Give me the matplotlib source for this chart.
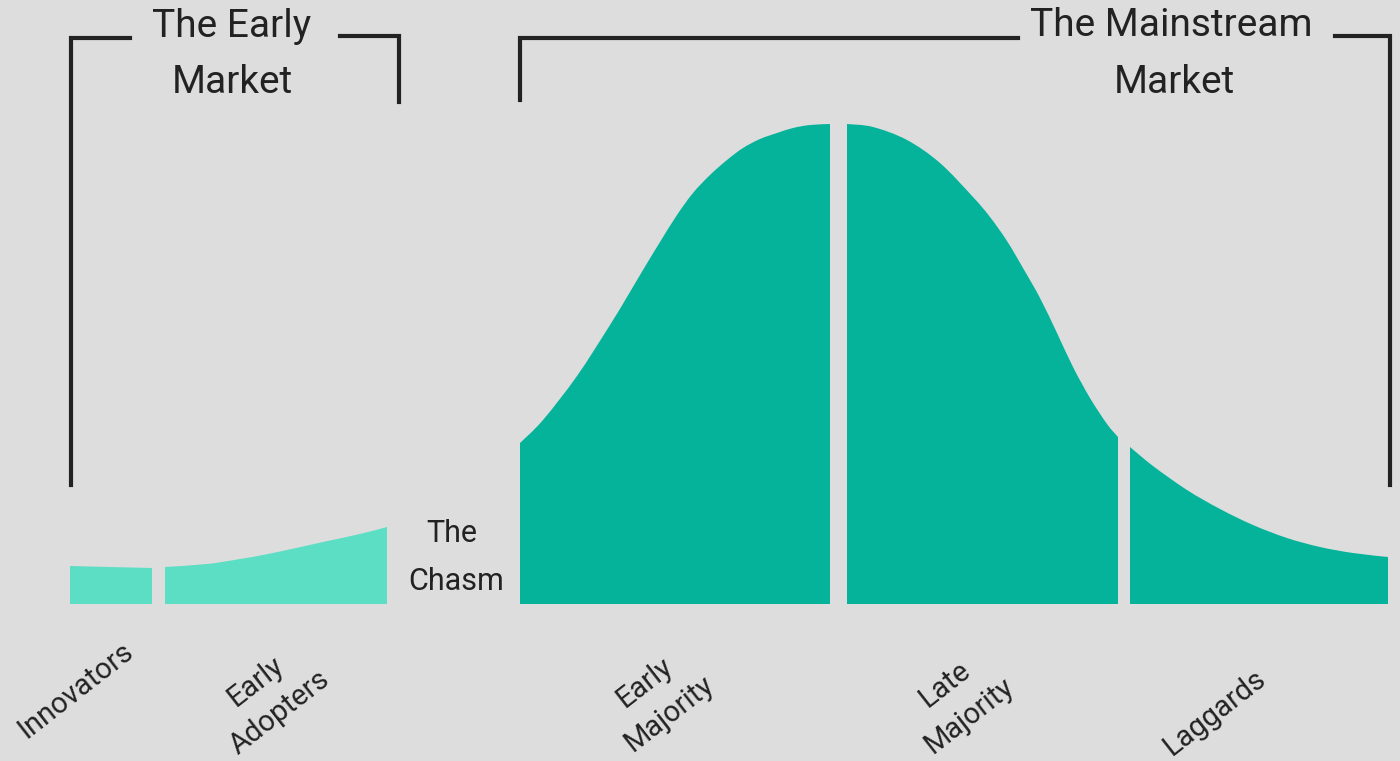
import numpy as np
import matplotlib
matplotlib.use("Agg")
from matplotlib import pyplot as plt
from matplotlib.path import Path
from matplotlib.patches import PathPatch

plt.rcParams['font.family'] = ['Roboto', 'DejaVu Sans']

# heights above the baseline (x in the same units)
innov_x = [70, 110, 152]
innov_h = [38, 37, 36]
adopt_x = [165, 207, 240, 273, 323, 360, 387]
adopt_h = [37, 40, 45, 51, 62, 70, 77]
emaj_x = [520, 543, 577, 610, 627, 643, 660, 677, 693, 710, 727, 743, 760, 777, 793, 810, 830]
emaj_h = [161, 184, 228, 279, 307, 334, 362, 389, 411, 429, 444, 456, 465, 471, 476, 479, 480]
lmaj_x = [847, 873, 907, 940, 973, 990, 1007, 1023, 1040, 1057, 1073, 1090, 1107, 1118]
lmaj_h = [480, 477, 464, 441, 407, 387, 363, 336, 306, 271, 237, 206, 180, 167]
lag_x = [1130, 1153, 1187, 1220, 1253, 1287, 1320, 1353, 1388]
lag_h = [157, 138, 114, 95, 79, 66, 57, 51, 47]

labels = ["Innovators", "Early\nAdopters", "Early\nMajority", "Late\nMajority", "Laggards"]
label_x = [76, 268, 657, 957, 1215]
label_y = [-86, -93, -94, -96, -109]

BG = '#dddddd'
TEAL = '#05b39b'
LIGHT = '#5cdec4'
INK = '#222222'


def segment(ax, xs, hs, color):
    pts = np.column_stack([xs, hs]).astype(float)
    n = len(pts)
    verts = [(xs[0], 0), tuple(pts[0])]
    codes = [Path.MOVETO, Path.LINETO]
    for i in range(n - 1):
        p0 = pts[max(i - 1, 0)]
        p1 = pts[i]
        p2 = pts[i + 1]
        p3 = pts[min(i + 2, n - 1)]
        verts += [tuple(p1 + (p2 - p0) / 6), tuple(p2 - (p3 - p1) / 6), tuple(p2)]
        codes += [Path.CURVE4] * 3
    verts += [(xs[-1], 0), (xs[0], 0)]
    codes += [Path.LINETO, Path.CLOSEPOLY]
    ax.add_patch(PathPatch(Path(verts, codes), facecolor=color, edgecolor='none'))


fig = plt.figure(figsize=(14, 7.61), dpi=100, facecolor=BG)
ax = fig.add_axes([0, 0, 1, 1])
ax.set_facecolor(BG)
ax.set_xlim(0, 1400)
ax.set_ylim(-157, 604)
ax.axis('off')

segment(ax, innov_x, innov_h, LIGHT)
segment(ax, adopt_x, adopt_h, LIGHT)
segment(ax, emaj_x, emaj_h, TEAL)
segment(ax, lmaj_x, lmaj_h, TEAL)
segment(ax, lag_x, lag_h, TEAL)

# brackets
lw = 3
ax.plot([71, 71, 130], [119, 566, 566], color=INK, lw=lw, solid_joinstyle='miter')
ax.plot([340, 399, 399], [568, 568, 502], color=INK, lw=lw, solid_joinstyle='miter')
ax.plot([520, 520, 1018], [504, 566, 566], color=INK, lw=lw, solid_joinstyle='miter')
ax.plot([1335, 1390, 1390], [568, 568, 119], color=INK, lw=lw, solid_joinstyle='miter')

ax.text(232, 567, "The Early", fontsize=28, ha='center', va='baseline', color=INK)
ax.text(232, 511, "Market", fontsize=28, ha='center', va='baseline', color=INK)
ax.text(1171, 568, "The Mainstream", fontsize=28, ha='center', va='baseline', color=INK)
ax.text(1174, 511, "Market", fontsize=28, ha='center', va='baseline', color=INK)

ax.text(452, 62, "The", fontsize=22, ha='center', va='baseline', color=INK)
ax.text(456, 14, "Chasm", fontsize=22, ha='center', va='baseline', color=INK)

for lab, x, y in zip(labels, label_x, label_y):
    ax.text(x, y, lab, fontsize=21, rotation=38, rotation_mode='anchor',
            ha='center', va='center', multialignment='center',
            linespacing=1.5, color=INK)

fig.savefig("out.png", dpi=100, facecolor=BG)
